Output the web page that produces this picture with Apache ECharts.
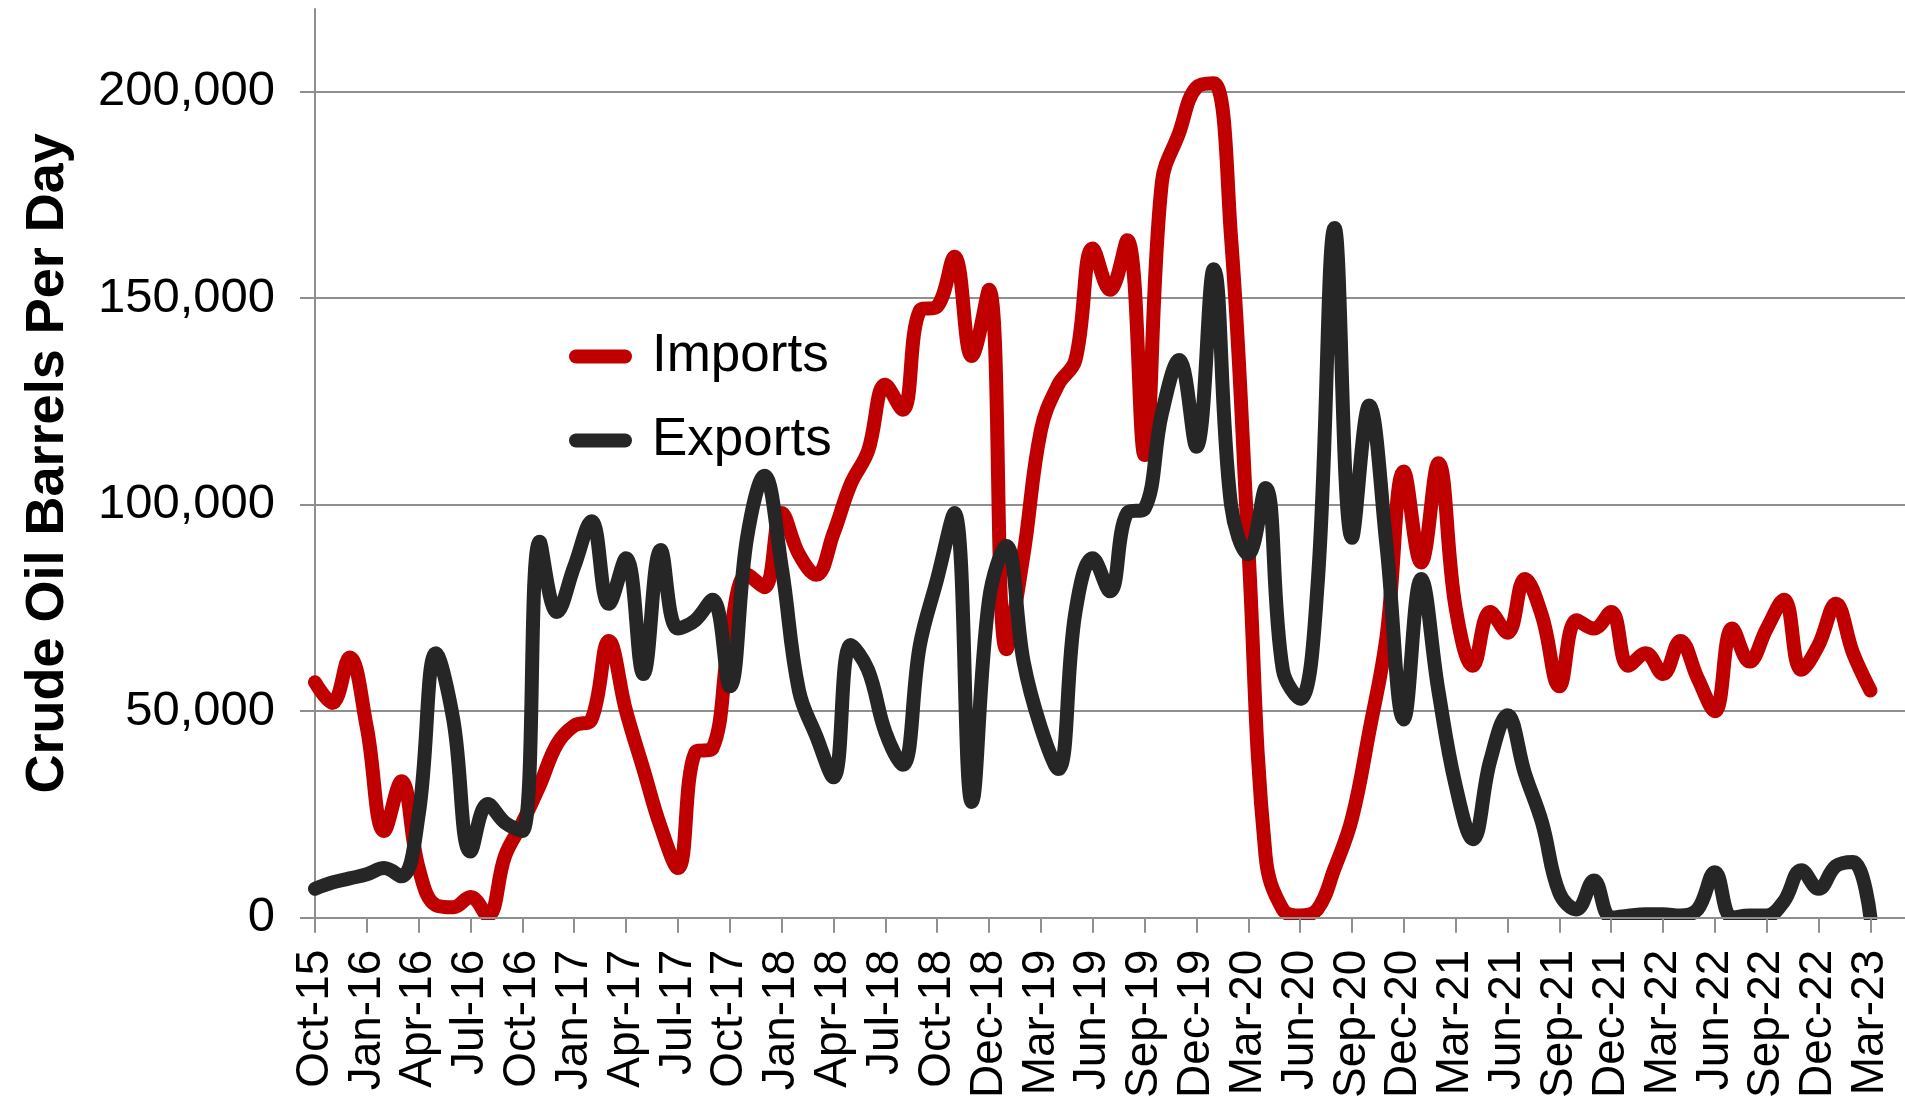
<!DOCTYPE html>
<html>
<head>
<meta charset="utf-8">
<script src="https://cdn.jsdelivr.net/npm/echarts@6/dist/echarts.min.js"></script>
<style>
html,body{margin:0;padding:0;background:#fff;}
#chart{width:1905px;height:1101px;}
</style>
</head>
<body>
<div id="chart"></div>
<script>
const categories = [
  'Oct-15','Nov-15','Dec-15',
  'Jan-16','Feb-16','Mar-16','Apr-16','May-16','Jun-16','Jul-16','Aug-16','Sep-16','Oct-16','Nov-16','Dec-16',
  'Jan-17','Feb-17','Mar-17','Apr-17','May-17','Jun-17','Jul-17','Aug-17','Sep-17','Oct-17','Nov-17','Dec-17',
  'Jan-18','Feb-18','Mar-18','Apr-18','May-18','Jun-18','Jul-18','Aug-18','Sep-18','Oct-18','Nov-18','Nov-18','Dec-18',
  'Jan-19','Feb-19','Mar-19','Apr-19','May-19','Jun-19','Jul-19','Aug-19','Sep-19','Oct-19','Nov-19','Dec-19',
  'Jan-20','Feb-20','Mar-20','Apr-20','May-20','Jun-20','Jul-20','Aug-20','Sep-20','Oct-20','Nov-20','Dec-20',
  'Jan-21','Feb-21','Mar-21','Apr-21','May-21','Jun-21','Jul-21','Aug-21','Sep-21','Oct-21','Nov-21','Dec-21',
  'Jan-22','Feb-22','Mar-22','Apr-22','May-22','Jun-22','Jul-22','Aug-22','Sep-22','Oct-22','Nov-22','Dec-22',
  'Jan-23','Feb-23','Mar-23'
];

const importsBpd = [
  57000, 52000, 63000, 46000, 21000, 33000, 12000, 3000, 2500, 5000,
  500, 15000, 23000, 32000, 42000, 46500, 48000, 67000, 50000, 36000,
  22000, 12000, 40000, 41000, 68000, 83000, 80000, 98000, 88000, 83000,
  93000, 105000, 113000, 129000, 123000, 147000, 148000, 160000, 136000, 152000,
  65000, 88000, 118000, 129000, 135000, 162000, 152000, 164000, 112000, 178000,
  190000, 201000, 202000, 165000, 90000, 15000, 2000, 500, 2000, 12000,
  24000, 45000, 68000, 108000, 86000, 110000, 75000, 61000, 74000, 69000,
  82000, 73000, 56000, 72000, 70000, 74000, 61000, 64000, 59000, 67000,
  58000, 50000, 70000, 62000, 70000, 77000, 60000, 66000, 76000, 64000,
  55000
];

const exportsBpd = [
  7000, 8500, 9500, 10500, 12000, 10000, 25000, 64000, 48000, 16000,
  27500, 23000, 21000, 91000, 74000, 85000, 96000, 76000, 87000, 59000,
  89000, 70000, 72000, 77000, 56000, 92000, 107000, 85000, 55000, 44000,
  34000, 66000, 60000, 45000, 37000, 66000, 82000, 98000, 28000, 77000,
  90000, 62000, 46000, 36000, 74000, 87000, 79000, 98000, 99000, 122000,
  135000, 114000, 157000, 100000, 88000, 104000, 60000, 53000, 80000, 167000,
  92000, 124000, 90000, 48000, 82000, 55000, 32000, 19000, 38000, 49000,
  35000, 23000, 6000, 2000, 9000, 0, 500, 800, 800, 500,
  2000, 11000, 0, 500, 500, 4000, 11500, 7000, 12500, 13500,
  0
];

const yTicks = [0, 50000, 100000, 150000, 200000];

const FONT = "'Liberation Sans', Arial, Helvetica, sans-serif";
const GRID = '#8f8f8f';
const RED = '#C00000';
const BLACK = '#262626';

const G = { left: 315, right: 0, top: 9, bottom: 183 };

const chart = echarts.init(document.getElementById('chart'), null, { renderer: 'canvas' });

const capsule = 'path://M7,0 L56,0 A7,7 0 0 1 56,14 L7,14 A7,7 0 0 1 7,0 Z M78,7 L78,7';

const option = {
  animation: false,
  backgroundColor: '#ffffff',
  textStyle: { fontFamily: FONT },
  grid: { left: G.left, right: G.right, top: G.top, bottom: G.bottom, containLabel: false },
  legend: {
    orient: 'vertical',
    left: 569,
    top: 330,
    padding: 0,
    itemWidth: 78,
    itemHeight: 14,
    itemGap: 31,
    icon: capsule,
    data: ['Imports', 'Exports'],
    textStyle: { fontSize: 53, color: '#000', fontFamily: FONT }
  },
  xAxis: {
    type: 'category',
    data: categories,
    boundaryGap: false,
    max: 92,
    z: 10,
    axisLine: { show: true, lineStyle: { color: GRID, width: 2 } },
    axisTick: { show: true, interval: 2, length: 15, lineStyle: { color: GRID, width: 2 } },
    axisLabel: { interval: 2, rotate: 90, fontSize: 46, color: '#000', margin: 32, fontFamily: FONT },
    splitLine: { show: false }
  },
  yAxis: {
    type: 'value',
    min: 0,
    max: 220000,
    interval: 50000,
    name: 'Crude Oil Barrels Per Day',
    nameLocation: 'middle',
    nameRotate: 90,
    nameGap: 240,
    nameTextStyle: { fontSize: 54, fontWeight: 'bold', color: '#000', fontFamily: FONT },
    axisLine: { show: true, lineStyle: { color: GRID, width: 2 } },
    axisTick: { show: true, length: 15, customValues: yTicks, lineStyle: { color: GRID, width: 2 } },
    axisLabel: {
      customValues: yTicks,
      fontSize: 49,
      color: '#000',
      margin: 40,
      fontFamily: FONT,
      formatter: function (v) { return Number(v).toLocaleString('en-US'); }
    },
    splitLine: { show: true, lineStyle: { color: GRID, width: 2 } }
  },
  graphic: {
    elements: [{
      type: 'rect',
      silent: true,
      z: 5,
      shape: { x: G.left + 1, y: 1101 - G.bottom + 2, width: 1905 - G.left, height: 13 },
      style: { fill: '#ffffff' }
    }]
  },
  series: [
    {
      name: 'Imports',
      type: 'line',
      data: importsBpd,
      smooth: 0.4,
      showSymbol: false,
      symbol: 'none',
      color: RED,
      itemStyle: { color: RED },
      lineStyle: { color: RED, width: 14, cap: 'round', join: 'round' },
      z: 2
    },
    {
      name: 'Exports',
      type: 'line',
      data: exportsBpd,
      smooth: 0.4,
      showSymbol: false,
      symbol: 'none',
      color: BLACK,
      itemStyle: { color: BLACK },
      lineStyle: { color: BLACK, width: 14, cap: 'round', join: 'round' },
      z: 2
    }
  ]
};

chart.setOption(option);
</script>
</body>
</html>
